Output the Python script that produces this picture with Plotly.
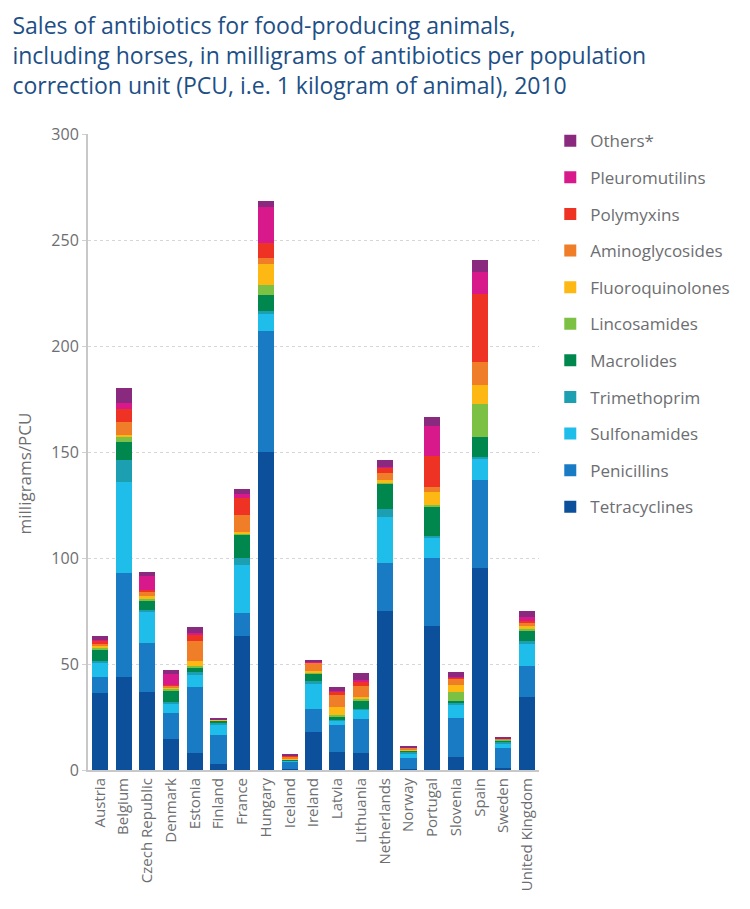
import plotly.graph_objects as go

countries = ["Austria", "Belgium", "Czech Republic", "Denmark", "Estonia", "Finland", "France",
             "Hungary", "Iceland", "Ireland", "Latvia", "Lithuania", "Netherlands", "Norway",
             "Portugal", "Slovenia", "Spain", "Sweden", "United Kingdom"]

tetracyclines    = [36.5, 44.0, 37.0, 14.5,  8.0,  2.8, 63.0, 150.0, 0.5, 18.0,  8.5,  8.0, 75.0, 0.5, 68.0,  6.0, 95.5, 1.0, 34.5]
penicillins      = [ 7.5, 49.0, 23.0, 12.5, 31.0, 13.5, 11.0,  57.0, 3.5, 11.0, 12.5, 16.0, 22.5, 5.0, 32.0, 18.5, 41.5, 9.5, 14.5]
sulfonamides     = [ 6.5, 43.0, 14.5,  4.5,  6.0,  5.0, 22.5,   8.0, 0.5, 12.0,  2.5,  4.5, 22.0, 2.5,  9.5,  6.5,  9.5, 2.0, 10.5]
trimethoprim     = [ 1.0, 10.0,  1.0,  0.5,  1.0,  1.0,  3.5,   1.5, 0.2,  0.8,  0.3,  0.5,  3.5, 0.5,  1.0,  0.5,  1.0, 0.5,  1.5]
macrolides       = [ 5.5,  8.5,  4.5,  5.5,  2.5,  1.0, 11.0,   7.5, 0.2,  3.8,  1.0,  4.0, 12.0, 0.5, 14.0,  1.0,  9.5, 1.0,  5.0]
lincosamides     = [ 0.5,  2.5,  0.5,  1.0,  0.5,  0.2,  0.5,   5.0, 0.0,  0.3,  1.0,  0.3,  0.5, 0.2,  0.5,  4.5, 15.5, 0.3,  0.5]
fluoroquinolones = [ 1.0,  1.0,  1.5,  0.3,  2.5,  0.2,  1.0,   9.5, 0.3,  0.8,  4.0,  1.0,  1.5, 0.2,  6.0,  3.0,  9.0, 0.1,  1.5]
aminoglycosides  = [ 1.0,  6.0,  2.0,  1.0,  9.5,  0.1,  8.0,   3.0, 1.3,  3.8,  5.5,  5.5,  3.0, 1.2,  2.5,  3.0, 11.0, 0.3,  1.5]
polymyxins       = [ 1.5,  6.5,  1.0,  0.2,  3.0,  0.0,  8.0,   7.0, 0.3,  0.2,  1.5,  2.0,  2.5, 0.0, 14.5,  0.5, 32.0, 0.0,  1.0]
pleuromutilins   = [ 0.5,  2.5,  6.5,  5.5,  0.5,  0.0,  1.5,  17.0, 0.0,  0.2,  0.5,  0.5,  0.5, 0.2, 14.5,  0.3, 10.5, 0.1,  1.5]
others           = [ 1.5,  7.0,  2.0,  1.5,  3.0,  0.4,  2.5,   3.0, 0.3,  1.2,  2.0,  3.5,  3.0, 0.5,  4.0,  2.5,  5.5, 0.5,  3.0]

series_names = ["Tetracyclines", "Penicillins", "Sulfonamides", "Trimethoprim", "Macrolides",
                "Lincosamides", "Fluoroquinolones", "Aminoglycosides", "Polymyxins",
                "Pleuromutilins", "Others*"]
series_values = [tetracyclines, penicillins, sulfonamides, trimethoprim, macrolides,
                 lincosamides, fluoroquinolones, aminoglycosides, polymyxins,
                 pleuromutilins, others]
series_colors = ["#0C4F9A", "#1A7BC5", "#1FBDEA", "#1C9FB0", "#00874E",
                 "#7CC143", "#FDB813", "#F07D27", "#EE3224", "#D8198B", "#8A2A7F"]

y_ticks = [0, 50, 100, 150, 200, 250, 300]
y_title = "milligrams/PCU"

FONT = "Open Sans"
GRAY = "#6d6e71"

fig = go.Figure()
n = len(series_names)
for i, (name, vals, col) in enumerate(zip(series_names, series_values, series_colors)):
    fig.add_trace(go.Bar(
        x=countries, y=vals, name=name, marker_color=col,
        marker_line_width=0, legendgroup=name, legendrank=n - i,
    ))

fig.update_layout(
    barmode="stack",
    bargap=0.32,
    width=742, height=901,
    paper_bgcolor="white", plot_bgcolor="white",
    margin=dict(l=80, r=211, t=126, b=139),
    font=dict(family=FONT, color=GRAY, size=15),
    title=dict(
        text="Sales of antibiotics for food-producing animals,<br>"
             "including horses, in milligrams of antibiotics per population<br>"
             "correction unit (PCU, i.e. 1 kilogram of animal), 2010",
        x=0.006, xanchor="left", xref="container",
        y=0.971, yanchor="top", yref="container",
        font=dict(family=FONT, size=23, color="#1d4f86"),
    ),
    legend=dict(
        x=1.025, xanchor="left", y=1.017, yanchor="top",
        traceorder="grouped", tracegroupgap=11.5,
        font=dict(family=FONT, size=17, color=GRAY),
        itemwidth=30, bgcolor="rgba(0,0,0,0)",
    ),
    showlegend=True,
    annotations=[dict(
        text=y_title, textangle=-90, xref="paper", yref="paper",
        x=-0.14, y=0.466, xanchor="center", yanchor="middle", showarrow=False,
        font=dict(family=FONT, size=17, color=GRAY),
    )],
)

fig.update_yaxes(
    range=[0, 300], tickvals=y_ticks, ticktext=[str(v) for v in y_ticks],
    showgrid=True, gridcolor="#d6d6d6", griddash="dot", gridwidth=1,
    showline=True, linecolor="#c8c8c8", linewidth=2,
    ticks="outside", ticklen=4, tickcolor="#d0d0d0",
    tickfont=dict(family=FONT, size=16, color=GRAY),
    zeroline=False,
)
fig.update_xaxes(
    tickangle=-90, showline=True, linecolor="#c8c8c8", linewidth=2,
    tickfont=dict(family=FONT, size=15, color=GRAY), ticks="",
)

fig.write_html("out.html")
